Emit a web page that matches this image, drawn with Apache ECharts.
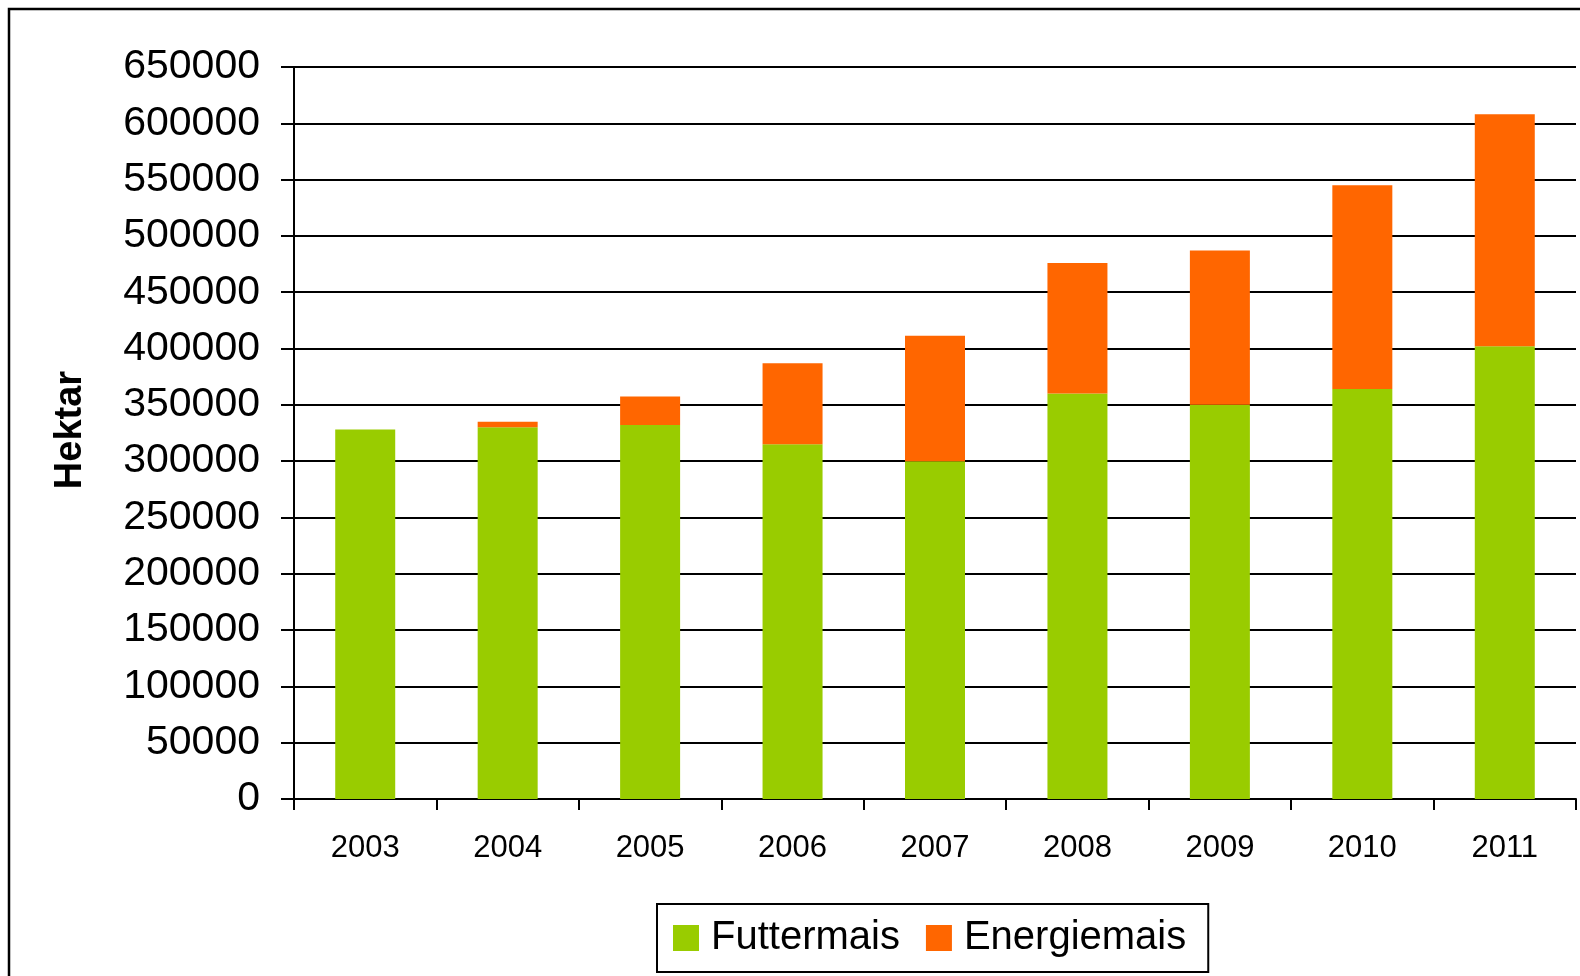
<!DOCTYPE html>
<html>
<head>
<meta charset="utf-8">
<style>
  html, body { margin: 0; padding: 0; background: #fff; }
  #chart { width: 1580px; height: 976px; }
</style>
<script src="https://cdn.jsdelivr.net/npm/echarts@6/dist/echarts.min.js"></script>
</head>
<body>
<div id="chart"></div>
<script>
const categories = ['2003', '2004', '2005', '2006', '2007', '2008', '2009', '2010', '2011'];
const futtermais = [328000, 330000, 332000, 315000, 300000, 360000, 350000, 364000, 402000];
const energiemais = [0, 5000, 25500, 72000, 111400, 116000, 137000, 181000, 206000];
const seriesNames = ['Futtermais', 'Energiemais'];
const yAxisName = 'Hektar';

const FONT = '"Liberation Sans", Arial, Helvetica, sans-serif';
const chart = echarts.init(document.getElementById('chart'), null, { renderer: 'canvas' });

chart.setOption({
  animation: false,
  backgroundColor: '#ffffff',
  textStyle: { fontFamily: FONT, color: '#000' },
  graphic: [
    {
      type: 'rect',
      shape: { x: 9, y: 9, width: 1650, height: 1050 },
      style: { fill: 'none', stroke: '#000', lineWidth: 2.5 },
      z: -10
    },
    {
      type: 'text',
      x: 71,
      y: 430,
      rotation: Math.PI / 2,
      style: {
        text: yAxisName,
        font: 'bold 38px ' + FONT,
        fill: '#000',
        align: 'center',
        verticalAlign: 'middle'
      }
    }
  ],
  legend: {
    data: seriesNames,
    left: 657,
    top: 904,
    orient: 'horizontal',
    itemWidth: 26,
    itemHeight: 26,
    itemGap: 26,
    padding: [14, 22, 14, 16],
    borderColor: '#000',
    borderWidth: 2,
    icon: 'rect',
    textStyle: {
      fontFamily: FONT,
      fontSize: 40,
      color: '#000',
      padding: [3, 0, 0, 7]
    }
  },
  grid: {
    left: 294,
    top: 67,
    width: 1282,
    height: 732,
    containLabel: false
  },
  xAxis: {
    type: 'category',
    data: categories,
    boundaryGap: true,
    axisLine: { show: true, lineStyle: { color: '#000', width: 2 } },
    axisTick: { show: true, length: 11, lineStyle: { color: '#000', width: 2 } },
    axisLabel: { fontFamily: FONT, fontSize: 31, color: '#000', margin: 34 },
    splitLine: { show: false }
  },
  yAxis: {
    type: 'value',
    min: 0,
    max: 650000,
    interval: 50000,
    axisLine: { show: true, lineStyle: { color: '#000', width: 2 } },
    axisTick: { show: true, length: 13, lineStyle: { color: '#000', width: 2 } },
    axisLabel: {
      fontFamily: FONT, fontSize: 41, color: '#000', margin: 34,
      padding: [4, 0, 0, 0],
      formatter: function (v) { return String(v); }
    },
    splitLine: { show: true, lineStyle: { color: '#000', width: 2 } }
  },
  series: [
    {
      name: seriesNames[0],
      type: 'bar',
      stack: 'total',
      data: futtermais,
      barWidth: 60,
      itemStyle: { color: '#99CC00' }
    },
    {
      name: seriesNames[1],
      type: 'bar',
      stack: 'total',
      data: energiemais,
      barWidth: 60,
      itemStyle: { color: '#FF6600' }
    }
  ]
});
</script>
</body>
</html>
